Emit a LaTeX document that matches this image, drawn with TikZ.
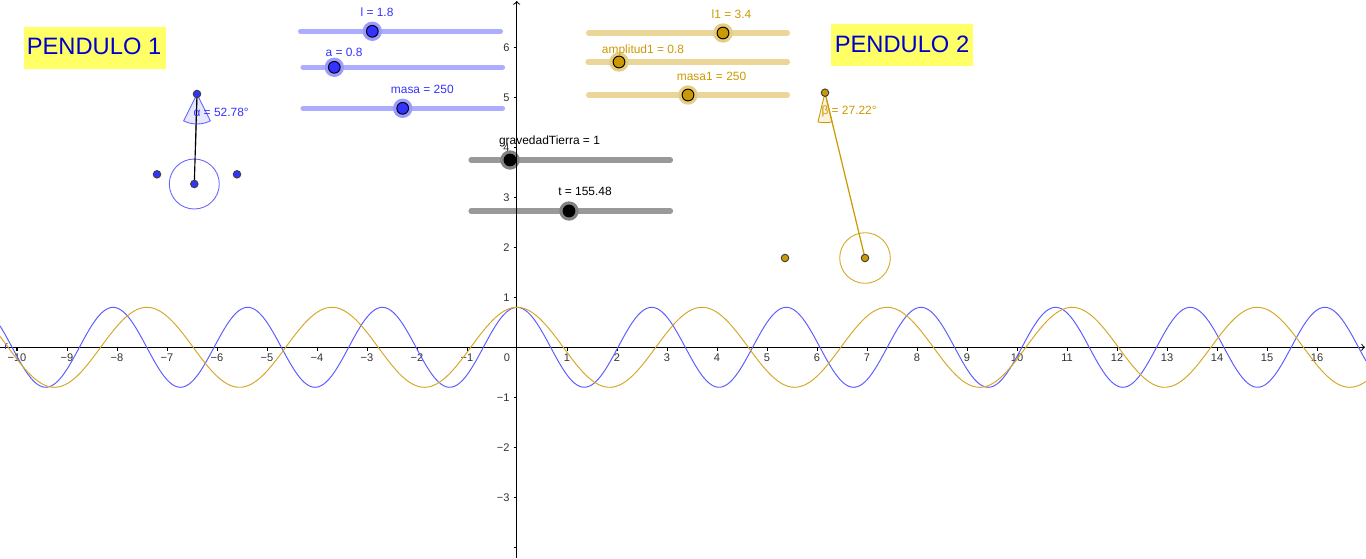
\documentclass[tikz,border=0pt]{standalone}
\usepackage{fontspec}
\setmainfont{Liberation Sans}
\usetikzlibrary{arrows}

\begin{document}
\begin{tikzpicture}[x=0.02cm,y=-0.02cm,>=to,
	line width=0.57pt,
	ticktext/.style={font=\fontsize{6.3}{8}\selectfont,text=black!80,inner sep=0pt},
	slidertext/.style={font=\fontsize{6.8}{8}\selectfont,inner sep=0pt},
	title/.style={fill=titleyellow,text=titleblue,font=\fontsize{13.5}{16}\selectfont,minimum width=2.84cm,minimum height=0.83cm,inner sep=0pt},
	point/.style={circle,draw=black!75,line width=0.55pt,minimum size=0.15cm,inner sep=0pt},
	knob/.style={circle,draw=black,line width=0.55pt,minimum size=0.235cm,inner sep=0pt}]
	
	\definecolor{titleyellow}{RGB}{255,255,102}
	\definecolor{titleblue}{RGB}{0,0,204}
	\definecolor{pblue}{RGB}{51,51,255}
	\definecolor{porange}{RGB}{204,153,0}
	\definecolor{trackblue}{RGB}{173,173,255}
	\definecolor{trackorange}{RGB}{235,214,153}
	\definecolor{trackgray}{RGB}{153,153,153}
	
	\useasboundingbox (0,0) rectangle (1366,558);
	
	% titles
	\node[title] (pendulo1) at (95,48) {\raisebox{2pt}{\kern-1.1ptPENDULO 1}};
	\node[title] (pendulo2) at (902,44.8) {\raisebox{0.8pt}{PENDULO 2}};
	
	% sliders
	\foreach \name/\xa/\xb/\ypos/\xk/\tone/\col in {
		l/300.5/500.5/31.3/372.3/trackblue/pblue,
		a/303/502.5/67.3/334.3/trackblue/pblue,
		masa/303/502.5/108.3/402.7/trackblue/pblue,
		lu/588.5/787.5/33/723/trackorange/porange,
		amplitud/588/787.5/62/619/trackorange/porange,
		masau/588.5/787.5/95/688/trackorange/porange,
		gravedad/471/670.5/160/510/trackgray/black,
		t/471/670.5/211/569/trackgray/black}{
		\coordinate (\name start) at (\xa,\ypos);
		\coordinate (\name end) at (\xb,\ypos);
		\draw[\tone,line width=2.9pt,line cap=round] (\name start) -- (\name end);
		\fill[\tone!85!\col] (\xk,\ypos) circle (9.7);
		\node[knob,fill=\col] (\name) at (\xk,\ypos) {};
	}
	
	% axes
	\foreach \i in {-10,...,-1,1,2,...,16}{
		\draw (517+50*\i,347.3) -- (517+50*\i,350.6);
		\node[ticktext] (x\i) at (517+50*\i,357.7) {\ifnum\i<0 −\the\numexpr-\i\relax\else\i\fi};
	}
	\foreach \i in {-4,-3,...,-1,1,2,...,6}{
		\draw (513.5,347.3-50*\i) -- (516.7,347.3-50*\i);
	}
	\foreach \i in {-3,-2,-1,1,2,...,6}{
		\node[ticktext,anchor=east] (y\i) at (510,347.3-50*\i) {\ifnum\i<0 −\the\numexpr-\i\relax\else\i\fi};
	}
	\node[ticktext] (origin) at (507,357.7) {0};
	\coordinate (xleft) at (0,347.3);
	\coordinate (xright) at (1365,347.3);
	\coordinate (ybottom) at (516.7,558);
	\coordinate (ytop) at (516.7,1);
	\draw[->] (xleft) -- (xright);
	\draw[->] (ybottom) -- (ytop);
	\draw[pblue,line width=0.5pt] (5.5,349) -- (5.5,344) -- (7.5,343.5);
	
	% slider labels
	\node[slidertext,text=pblue] (l label) at (377,12) {l = 1.8};
	\node[slidertext,text=pblue] (a label) at (344,52) {a = 0.8};
	\node[slidertext,text=pblue] (masa label) at (422.3,89) {masa = 250};
	\node[slidertext,text=porange] (lu label) at (731.5,14) {l1 = 3.4};
	\node[slidertext,text=porange] (amplitud label) at (643,50) {amplitud1 = 0.8};
	\node[slidertext,text=porange] (masau label) at (711.5,76) {masa1 = 250};
	\node[slidertext] (gravedad label) at (549.5,141) {gravedadTierra = 1};
	\node[slidertext] (t label) at (585,191) {t = 155.48};
	
	% curves
	\draw[pblue!80,line width=0.55pt] plot[domain=0:1366,samples=500,smooth] (\x,{347.3-40*cos(deg(sqrt(9.8/1.8)*(\x-517)/50))});
	\draw[porange!85,line width=0.55pt] plot[domain=0:1366,samples=500,smooth] (\x,{347.3-40*cos(deg(sqrt(9.8/3.4)*(\x-517)/50))});
	
	% pendulum 1
	\coordinate (pivot1) at (197,94);
	\coordinate (bob1) at (194.3,184);
	\coordinate (mid1) at (195.6,146);
	\fill[pblue!12,draw=pblue!75,line width=0.5pt] (pivot1) -- +(63.6:30) arc[start angle=63.6,end angle=116.4,radius=30] -- cycle;
	\draw[black!40,line width=0.7pt] (pivot1) -- (mid1);
	\draw[pblue!75,line width=0.5pt] (bob1) circle (25);
	\draw[black,line width=0.65pt] (pivot1) -- (bob1);
	\node[point,fill=pblue] (p1) at (pivot1) {};
	\node[point,fill=pblue] (b1) at (bob1) {};
	\node[point,fill=pblue] (left1) at (157,174.3) {};
	\node[point,fill=pblue] (right1) at (237,174.3) {};
	\node[slidertext,text=pblue,anchor=west] (alpha) at (193,112) {α = 52.78°};
	
	% pendulum 2
	\coordinate (pivot2) at (825,92.7);
	\coordinate (bob2) at (865,258);
	\fill[porange!12,draw=porange,line width=0.5pt] (pivot2) -- +(76.4:30) arc[start angle=76.4,end angle=103.6,radius=30] -- cycle;
	\draw[porange!85,line width=0.5pt] (bob2) circle (25.3);
	\draw[porange,line width=0.7pt] (pivot2) -- (bob2);
	\node[point,fill=porange] (p2) at (pivot2) {};
	\node[point,fill=porange] (b2) at (bob2) {};
	\node[point,fill=porange] (left2) at (785,258) {};
	\node[slidertext,text=porange,anchor=west] (beta) at (821,111.7) {β = 27.22°};
\end{tikzpicture}
\end{document}
